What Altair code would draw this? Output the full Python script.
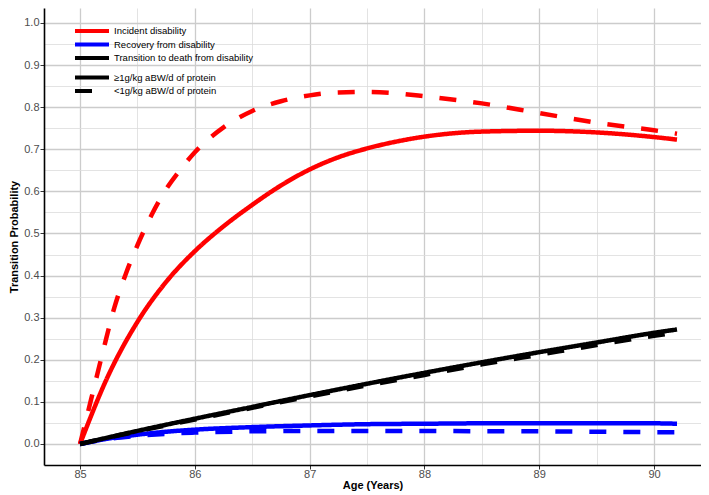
import altair as alt
import pandas as pd

# ---- data ----
series_names = ["Incident disability", "Recovery from disability", "Transition to death from disability"]
protein_groups = ["\u22651g/kg aBW/d of protein", "<1g/kg aBW/d of protein"]

age_inc_hi = [85, 85.25, 85.5, 85.75, 86.0, 86.25, 86.5, 86.75, 87.0, 87.25, 87.5, 87.75, 88.0, 88.5, 89.0, 89.5, 90.0, 90.2]
inc_hi = [0, 0.165, 0.29, 0.385, 0.458, 0.517, 0.568, 0.614, 0.652, 0.681, 0.702, 0.718, 0.730, 0.742, 0.744, 0.740, 0.729, 0.723]

age_inc_lo = [85, 85.1, 85.2, 85.3, 85.4, 85.5, 85.625, 85.75, 85.875, 86.0, 86.25, 86.5, 86.75, 87.0, 87.25, 87.5, 87.75, 88.0, 88.5, 89.0, 89.5, 90.0, 90.2]
inc_lo = [0, 0.11, 0.22, 0.325, 0.405, 0.472, 0.545, 0.605, 0.652, 0.693, 0.752, 0.791, 0.814, 0.828, 0.835, 0.836, 0.833, 0.826, 0.809, 0.786, 0.763, 0.745, 0.737]

age_rec = [85, 85.25, 85.5, 85.75, 86.0, 86.5, 87.0, 87.5, 88.0, 88.5, 89.0, 89.5, 90.0, 90.2]
rec_hi = [0, 0.013, 0.022, 0.029, 0.034, 0.040, 0.044, 0.047, 0.048, 0.049, 0.049, 0.049, 0.049, 0.048]
rec_lo = [0, 0.012, 0.019, 0.024, 0.027, 0.030, 0.031, 0.031, 0.031, 0.030, 0.030, 0.029, 0.028, 0.028]

age_death = [85, 85.5, 86.0, 86.5, 87.0, 87.5, 88.0, 88.5, 89.0, 89.5, 90.0, 90.2]
death_hi = [0, 0.031, 0.060, 0.088, 0.116, 0.143, 0.169, 0.194, 0.218, 0.241, 0.264, 0.272]
death_lo = [0, 0.030, 0.058, 0.086, 0.113, 0.139, 0.164, 0.189, 0.212, 0.235, 0.257, 0.265]

x_ticks = [85 + 0.5 * i for i in range(11)]
y_ticks = [round(0.05 * i, 2) for i in range(21)]

rows = []
for ages, vals, s, g in [
    (age_inc_hi, inc_hi, 0, 0), (age_inc_lo, inc_lo, 0, 1),
    (age_rec, rec_hi, 1, 0), (age_rec, rec_lo, 1, 1),
    (age_death, death_hi, 2, 0), (age_death, death_lo, 2, 1),
]:
    for a, v in zip(ages, vals):
        rows.append({"age": a, "p": v, "series": series_names[s], "protein": protein_groups[g],
                     "grp": f"{s}-{g}"})
df = pd.DataFrame(rows)

FONT = "Liberation Sans"
SYM = "M-5.667,0H5.667"

major_x = "datum.value % 1 == 0"
major_y = "abs(datum.value*10 - round(datum.value*10)) < 0.01"

x_axis = alt.Axis(
    values=x_ticks, title="Age (Years)",
    labelExpr=f"{major_x} ? format(datum.value, 'd') : ''",
    labelOverlap=False, labelFlush=False,
    grid=True,
    gridColor={"condition": {"test": major_x, "value": "#cccccc"}, "value": "#dcdcdc"},
    gridWidth={"condition": {"test": major_x, "value": 1.3}, "value": 0.8},
    tickOpacity={"condition": {"test": major_x, "value": 1}, "value": 0},
    tickColor="#333333", tickSize=4, tickWidth=1,
    domainColor="black", domainWidth=1.6,
    labelFont=FONT, labelFontSize=11, labelColor="#4d4d4d",
    labelBaseline="middle", labelPadding=5,
    titleFont=FONT, titleFontSize=11, titleFontWeight="bold", titleColor="black", titlePadding=0,
)
y_axis = alt.Axis(
    values=y_ticks, title="Transition Probability",
    labelExpr=f"{major_y} ? format(datum.value, '.1f') : ''",
    labelOverlap=False, labelFlush=False,
    grid=True,
    gridColor={"condition": {"test": major_y, "value": "#cccccc"}, "value": "#dcdcdc"},
    gridWidth={"condition": {"test": major_y, "value": 1.3}, "value": 0.8},
    tickOpacity={"condition": {"test": major_y, "value": 1}, "value": 0},
    tickColor="#333333", tickSize=4, tickWidth=1,
    domainColor="black", domainWidth=1.6,
    labelFont=FONT, labelFontSize=11, labelColor="#4d4d4d", labelPadding=1,
    titleFont=FONT, titleFontSize=11, titleFontWeight="bold", titleColor="black", titlePadding=4,
)

color_legend = alt.Legend(
    title=None, orient="none", legendX=43, legendY=18, padding=0,
    symbolType=SYM, symbolSize=36, symbolStrokeWidth=4,
    labelFont=FONT, labelFontSize=9.5, labelColor="black", labelOffset=17,
    rowPadding=-2.5,
)
dash_legend = alt.Legend(
    title=None, orient="none", legendX=43, legendY=64.5, padding=0,
    symbolType=SYM, symbolSize=36, symbolStrokeWidth=4, symbolStrokeColor="black",
    labelFont=FONT, labelFontSize=9.5, labelColor="black", labelOffset=17,
    rowPadding=-2.5,
)

chart = alt.Chart(df).mark_line(strokeWidth=4.5, strokeCap="butt", interpolate="monotone").encode(
    x=alt.X("age:Q", scale=alt.Scale(domain=[84.686, 90.409], nice=False, zero=False), axis=x_axis),
    y=alt.Y("p:Q", scale=alt.Scale(domain=[-0.05, 1.0356], nice=False, zero=False), axis=y_axis),
    color=alt.Color("series:N", scale=alt.Scale(domain=series_names, range=["#FF0000", "#0000FF", "#000000"]),
                    legend=color_legend),
    strokeDash=alt.StrokeDash("protein:N", scale=alt.Scale(domain=protein_groups, range=[[1, 0], [17, 17]]),
                              legend=dash_legend),
    detail="grp:N",
).properties(
    width=657, height=457,
    padding={"left": 36, "top": 0, "right": 0, "bottom": 30},
    autosize=alt.AutoSizeParams(type="none"),
).configure_view(stroke=None)

chart.save("out.html", embed_options={"renderer": "svg", "actions": False})
